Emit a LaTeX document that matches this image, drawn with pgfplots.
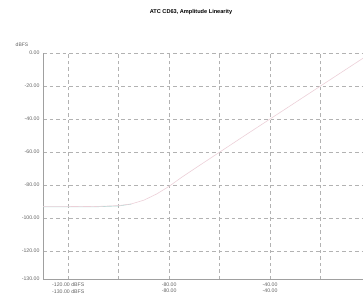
\documentclass[border=0pt]{standalone}
\usepackage{pgfplots}
\pgfplotsset{compat=1.18}
\usepackage{fontspec}
\setmainfont{Liberation Sans}
\definecolor{gridc}{RGB}{178,178,178}
\definecolor{axc}{RGB}{160,160,160}
\definecolor{txt}{RGB}{100,100,100}
\definecolor{pinkl}{RGB}{236,208,216}
\definecolor{teall}{RGB}{165,220,212}
\begin{document}
\begin{tikzpicture}[x=1pt,y=1pt]
\path[use as bounding box] (0,0) rectangle (363,300);
\begin{axis}[
  at={(43pt,21pt)}, anchor=south west,
  width=328pt, height=226pt, scale only axis,
  xmin=-130, xmax=0, ymin=-137, ymax=0,
  axis x line*=bottom, axis y line*=left,
  axis line style={axc, line width=0.6pt, -},
  xtick={-120,-100,-80,-60,-40,-20,0},
  xticklabels={{-120.00 dBFS\\-130.00 dBFS},,{-80.00\\-80.00},,{-40.00\\-40.00},,{0.00\\0.00}},
  ytick={0,-20,-40,-60,-80,-100,-120,-137},
  yticklabels={0.00,-20.00,-40.00,-60.00,-80.00,-100.00,-120.00,-130.00},
  xticklabel style={align=center, font=\fontsize{5.2}{6.8}\selectfont, text=txt},
  yticklabel style={font=\fontsize{5.2}{6}\selectfont, text=txt},
  /pgf/number format/assume math mode=true,
  major tick length=0pt,
  grid=major,
  major grid style={gridc, dash pattern=on 3.5pt off 3pt, line width=0.5pt},
  clip=false,
]
\addplot[teall, line width=0.6pt] coordinates {
(-130,-93.3) (-120,-93.3) (-110,-93.3) (-100,-92.7) (-95,-91.6)
};
\addplot[pinkl, line width=0.6pt] coordinates {
(-130,-93.1) (-120,-93.1) (-115,-93.0) (-110,-93.1) (-100,-92.5) (-95,-91.5) (-90,-89.2) (-85,-85.5) (-80,-80.8) (-75,-75.3) (-70,-70.2) (-60,-60.1) (-50,-50) (-40,-40) (-30,-30) (-20,-20) (-10,-10) (0,0)
};
\end{axis}
\node[text=txt, font=\fontsize{5}{6}\selectfont] at (22,255) {dBFS};
\node[font=\fontsize{5.6}{6}\selectfont\bfseries] at (191,288) {ATC CD63, Amplitude Linearity};
\end{tikzpicture}
\end{document}
